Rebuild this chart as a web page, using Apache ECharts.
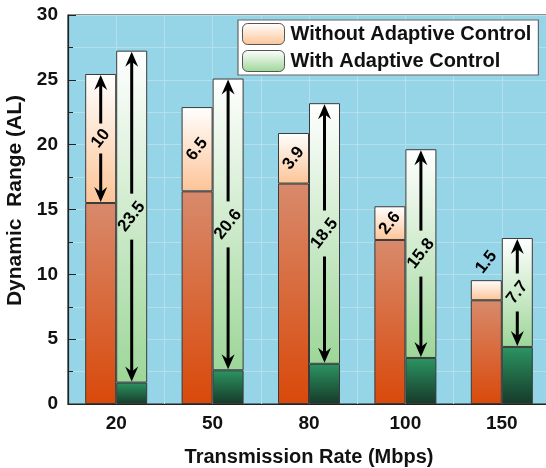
<!DOCTYPE html>
<html>
<head>
<meta charset="utf-8">
<script src="https://cdn.jsdelivr.net/npm/echarts@6/dist/echarts.min.js"></script>
<style>html,body{margin:0;padding:0;background:#fff;}#c{width:546px;height:468px;}</style>
</head>
<body>
<div id="c"></div>
<script>
var categories = ['20', '50', '80', '100', '150'];
var withoutBase = [15.5, 16.4, 17.0, 12.65, 8.0];
var withoutTop = [25.45, 22.9, 20.9, 15.25, 9.55];
var withoutLabel = ['10', '6.5', '3.9', '2.6', '1.5'];
var withBase = [1.65, 2.6, 3.1, 3.55, 4.4];
var withTop = [27.25, 25.1, 23.2, 19.65, 12.8];
var withLabel = ['23.5', '20.6', '18.5', '15.8', '7.7'];
var yTicks = { min: 0, max: 30, interval: 5 };

function diff(a, b) { return a.map(function (v, i) { return +(v - b[i]).toFixed(3); }); }
function grad(c1, c2) {
  return { type: 'linear', x: 0, y: 0, x2: 0, y2: 1, colorStops: [{ offset: 0, color: c1 }, { offset: 1, color: c2 }] };
}

var BAR_W = 31;
var annot = [];
categories.forEach(function (c, i) {
  annot.push([i, withoutBase[i], withoutTop[i], -1]);
  annot.push([i, withBase[i], withTop[i], 1]);
});
function labelOf(idx) {
  var i = Math.floor(idx / 2);
  return idx % 2 === 0 ? withoutLabel[i] : withLabel[i];
}

function arrowHead(x, yTip, dir) {
  return {
    type: 'polygon',
    shape: { points: [[x, yTip], [x - 6.5, yTip - dir * 15], [x, yTip - dir * 10], [x + 6.5, yTip - dir * 15]] },
    style: { fill: '#000' }
  };
}

function renderItem(params, api) {
  var ci = api.value(0), base = api.value(1), top = api.value(2), side = api.value(3);
  var p1 = api.coord([ci, top]);
  var p0 = api.coord([ci, base]);
  var x = p1[0] + side * BAR_W / 2;
  var yTop = p1[1], yBase = p0[1];
  var h = yBase - yTop;
  var text = labelOf(params.dataIndex);
  var children = [];
  var yLab;
  if (h < 25) { yLab = yTop - 18; } else { yLab = (yTop + yBase) / 2; }
  children.push({
    type: 'text', x: x, y: yLab, rotation: 52 * Math.PI / 180,
    style: { text: text, font: 'bold 17px "Liberation Sans", Arial, sans-serif', fill: '#000', align: 'center', verticalAlign: 'middle' }
  });
  if (h > 100) {
    var gap = 7 + text.length * 4;
    children.push({ type: 'line', shape: { x1: x, y1: yLab - gap, x2: x, y2: yTop + 10 }, style: { stroke: '#000', lineWidth: 3 } });
    children.push(arrowHead(x, yTop + 1, -1));
    children.push({ type: 'line', shape: { x1: x, y1: yLab + gap, x2: x, y2: yBase - 10 }, style: { stroke: '#000', lineWidth: 3 } });
    children.push(arrowHead(x, yBase - 1, 1));
  }
  return { type: 'group', children: children };
}

var halfCats = [];
categories.forEach(function (c) { halfCats.push(c + 'a'); halfCats.push(c + 'b'); });

var font = '"Liberation Sans", Arial, sans-serif';
var chart = echarts.init(document.getElementById('c'), null, { renderer: 'canvas' });
chart.setOption({
  animation: false,
  backgroundColor: '#fff',
  grid: { left: 68, top: 15, width: 482, height: 389, containLabel: false, outerBoundsMode: 'none',
    show: true, backgroundColor: '#96D5E7', borderColor: '#222', borderWidth: 1.2 },
  legend: {
    data: ['Without Adaptive Control', 'With Adaptive Control'],
    orient: 'vertical', left: 238, top: 20,
    itemWidth: 42, itemHeight: 21, itemGap: 5,
    padding: [3, 7, 3, 4],
    backgroundColor: '#fff', borderColor: '#666', borderWidth: 1.2, borderRadius: 0,
    textStyle: { fontFamily: font, fontWeight: 'bold', fontSize: 20, color: '#111', padding: [0, 0, 0, 1] },
    itemStyle: { borderColor: '#555', borderWidth: 1 }
  },
  xAxis: [{
    type: 'category', data: categories, boundaryGap: true,
    axisLine: { lineStyle: { color: '#222', width: 1.2 } },
    axisTick: { inside: true, length: 5, interval: 0, lineStyle: { color: '#222' } },
    axisLabel: { margin: 10, fontFamily: font, fontWeight: 'bold', fontSize: 19, color: '#111' },
    splitLine: { show: false },
    name: 'Transmission Rate (Mbps)', nameLocation: 'middle', nameGap: 43,
    nameTextStyle: { fontFamily: font, fontWeight: 'bold', fontSize: 20, color: '#111' }
  }, {
    type: 'category', data: halfCats, position: 'bottom', show: true,
    axisLine: { show: false }, axisTick: { show: false }, axisLabel: { show: false },
    splitLine: { show: true, interval: 0, lineStyle: { color: '#B4E0EC', width: 1 } }
  }],
  yAxis: {
    type: 'value', min: yTicks.min, max: yTicks.max, interval: yTicks.interval,
    axisLine: { show: true, lineStyle: { color: '#222', width: 1.2 } },
    axisTick: { show: true, inside: true, length: 8, lineStyle: { color: '#222' } },
    minorTick: { show: true, splitNumber: 2, length: 5, lineStyle: { color: '#222' } },
    axisLabel: { margin: 10, fontFamily: font, fontWeight: 'bold', fontSize: 19, color: '#111' },
    splitLine: { show: true, lineStyle: { color: '#B4E0EC', width: 1 } },
    minorSplitLine: { show: true, lineStyle: { color: '#B4E0EC', width: 1 } },
    name: 'Dynamic  Range (AL)', nameLocation: 'middle', nameGap: 36,
    nameTextStyle: { fontFamily: font, fontWeight: 'bold', fontSize: 21, color: '#111', padding: [0, 0, 0, 18] }
  },
  series: [
    { name: 'withoutBase', type: 'bar', stack: 'a', barWidth: BAR_W, barGap: '0%', data: withoutBase,
      itemStyle: { color: grad('#D88A6C', '#D9490A'), borderColor: '#3a3a3a', borderWidth: 1 } },
    { name: 'Without Adaptive Control', type: 'bar', stack: 'a', barWidth: BAR_W, barGap: '0%', data: diff(withoutTop, withoutBase),
      itemStyle: { color: grad('#FFFFFF', '#FDC497'), borderColor: '#3a3a3a', borderWidth: 1 } },
    { name: 'withBase', type: 'bar', stack: 'b', barWidth: BAR_W, barGap: '0%', data: withBase,
      itemStyle: { color: grad('#2C9462', '#163A29'), borderColor: '#3a3a3a', borderWidth: 1 } },
    { name: 'With Adaptive Control', type: 'bar', stack: 'b', barWidth: BAR_W, barGap: '0%', data: diff(withTop, withBase),
      itemStyle: { color: grad('#FFFFFF', '#9DD698'), borderColor: '#3a3a3a', borderWidth: 1 } },
    { name: 'annot', type: 'custom', renderItem: renderItem, data: annot, clip: false, z: 10,
      encode: { x: 0, y: [1, 2] } }
  ]
});
</script>
</body>
</html>
